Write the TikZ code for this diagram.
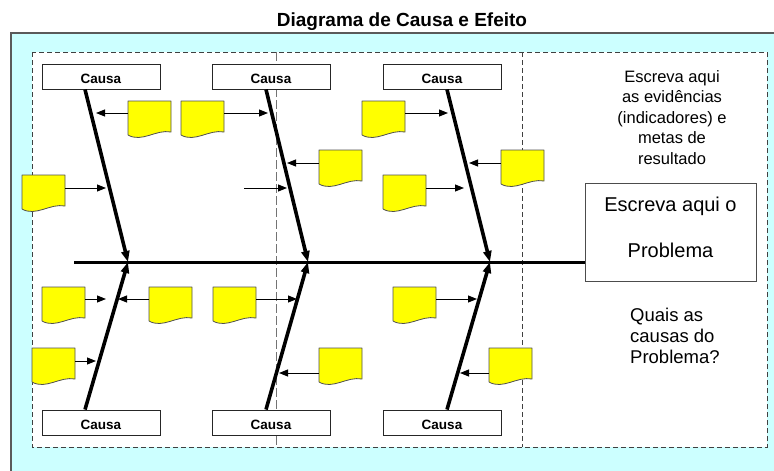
\documentclass[tikz,border=0pt]{standalone}
\usepackage{fontspec}
\setmainfont{Liberation Sans}
\usetikzlibrary{arrows.meta}
\definecolor{bgcyan}{HTML}{CCFFFF}
\definecolor{noteyellow}{HTML}{FFFF00}
\definecolor{framegray}{HTML}{5A5A5A}
\definecolor{notebd}{HTML}{505050}
\newcommand\mynote[3]{%
  \node[notebody] (#1) at (#2,#3) {};
  \draw[noteshape] (#1.north west) -- (#1.north east) -- (#1.south east)
    .. controls +(-15pt,3pt) and +(14pt,-8pt) .. ([yshift=-3pt]#1.south west) -- cycle;}
\begin{document}
\begin{tikzpicture}[x=1pt,y=-1pt,
  notebody/.style={anchor=north west, minimum width=43pt, minimum height=31pt, inner sep=0pt, outer sep=0pt},
  noteshape/.style={fill=noteyellow, draw=notebd, line width=0.8pt, line join=round},
  causa/.style={draw=black!85, fill=white, line width=0.9pt, minimum width=118pt, minimum height=25pt, inner sep=0pt,
    font=\bfseries\fontsize{13.5}{15}\selectfont, text height=13pt, text depth=0pt},
  bone/.style={line width=3.6pt, -{Triangle[length=11pt,width=8pt]}},
  spine/.style={line width=3pt},
  twig/.style={line width=1pt, -{Triangle[length=9pt,width=7pt]}},
  dashbox/.style={draw=black!75, line width=0.9pt, dash pattern=on 5pt off 3pt},
  lightdash/.style={draw=black!55, line width=0.7pt, dash pattern=on 9pt off 3pt},
  righttxt/.style={font=\fontsize{16.5}{20}\selectfont, anchor=base, inner sep=0pt},
  quaistxt/.style={font=\fontsize{18.5}{21}\selectfont, anchor=base west, inner sep=0pt},
  probtxt/.style={font=\fontsize{20}{24}\selectfont, anchor=base, inner sep=0pt}]
\useasboundingbox (0,0) rectangle (774,471);
\clip (0,0) rectangle (774,471);
% background
\fill[bgcyan] (11,33) rectangle (800,500);
\draw[framegray, line width=1.3pt] (11,500) -- (11,33) -- (800,33);
\fill[white] (32,52) rectangle (767,447);
\draw[dashbox] (32,52) rectangle (767,447);
\draw[dashbox] (522,52) -- (522,447);
\draw[lightdash] (276,52) -- (276,447);
% title
\node[font=\bfseries\fontsize{19}{22}\selectfont, anchor=base, inner sep=0pt] (title) at (402,27) {Diagrama de Causa e Efeito};
% cause boxes
\node[causa] (c1) at (101,76.5) {Causa};
\node[causa] (c2) at (271,76.5) {Causa};
\node[causa] (c3) at (442,76.5) {Causa};
\node[causa] (d1) at (101,422.5) {Causa};
\node[causa] (d2) at (271,422.5) {Causa};
\node[causa] (d3) at (442,422.5) {Causa};
% problem box
\node[draw=black!70, fill=white, line width=0.9pt, minimum width=171pt, minimum height=98pt, inner sep=0pt] (prob) at (670.5,232) {};
\node[probtxt] (p1) at (670.5,211) {Escreva aqui o};
\node[probtxt] (p2) at (670.5,257) {Problema};
% spine and joints
\coordinate (s0) at (74,262);
\coordinate (j1) at (128,262);
\coordinate (j2) at (308,262);
\coordinate (j3) at (490,262);
\draw[spine] (s0) -- (s0 -| prob.west);
\draw[bone] ([xshift=-16pt]c1.south) -- (j1);
\draw[bone] ([xshift=-5pt]c2.south) -- (j2);
\draw[bone] ([xshift=5pt]c3.south) -- (j3);
\draw[bone] ([xshift=-16pt]d1.north) -- (j1);
\draw[bone] ([xshift=-5pt]d2.north) -- (j2);
\draw[bone] ([xshift=5pt]d3.north) -- (j3);
% notes top
\mynote{n1}{128}{101}
\mynote{n2}{181}{101}
\mynote{n3}{319}{150}
\mynote{n4}{22}{175}
\mynote{n6}{362}{101}
\mynote{n7}{501}{150}
\mynote{n8}{383}{175}
% notes bottom
\mynote{b1}{42}{287}
\mynote{b2}{149}{287}
\mynote{b3}{213}{287}
\mynote{b4}{32}{348}
\mynote{b5}{319}{348}
\mynote{b6}{393}{287}
\mynote{b7}{489}{348}
% arrow targets
\coordinate (a1) at (96,113);
\coordinate (a2) at (268,113);
\coordinate (a3) at (287,163);
\coordinate (a4) at (106,188);
\coordinate (f5) at (244,188);
\coordinate (a5) at (287,188);
\coordinate (a6) at (448,113);
\coordinate (a7) at (469,163);
\coordinate (a8) at (464,188);
\coordinate (e1) at (106,299);
\coordinate (e2) at (118,299);
\coordinate (e3) at (297,299);
\coordinate (e4) at (96,361);
\coordinate (e5) at (279,373);
\coordinate (e6) at (477,299);
\coordinate (e7) at (460,373);
\draw[twig] (n1.west |- a1) -- (a1);
\draw[twig] (n2.east |- a2) -- (a2);
\draw[twig] (n3.west |- a3) -- (a3);
\draw[twig] (n4.east |- a4) -- (a4);
\draw[twig] (f5) -- (a5);
\draw[twig] (n6.east |- a6) -- (a6);
\draw[twig] (n7.west |- a7) -- (a7);
\draw[twig] (n8.east |- a8) -- (a8);
\draw[twig] (b1.east |- e1) -- (e1);
\draw[twig] (b2.west |- e2) -- (e2);
\draw[twig] (b3.east |- e3) -- (e3);
\draw[twig] (b4.east |- e4) -- (e4);
\draw[twig] (b5.west |- e5) -- (e5);
\draw[twig] (b6.east |- e6) -- (e6);
\draw[twig] (b7.west |- e7) -- (e7);
% right texts
\node[righttxt] (r1) at (672,82) {Escreva aqui};
\node[righttxt] (r2) at (672,102.5) {as evidências};
\node[righttxt] (r3) at (672,123) {(indicadores) e};
\node[righttxt] (r4) at (672,143.5) {metas de};
\node[righttxt] (r5) at (672,164) {resultado};
\node[quaistxt] (q1) at (630,321) {Quais as};
\node[quaistxt] (q2) at (630,342) {causas do};
\node[quaistxt] (q3) at (630,363) {Problema?};
\end{tikzpicture}
\end{document}
